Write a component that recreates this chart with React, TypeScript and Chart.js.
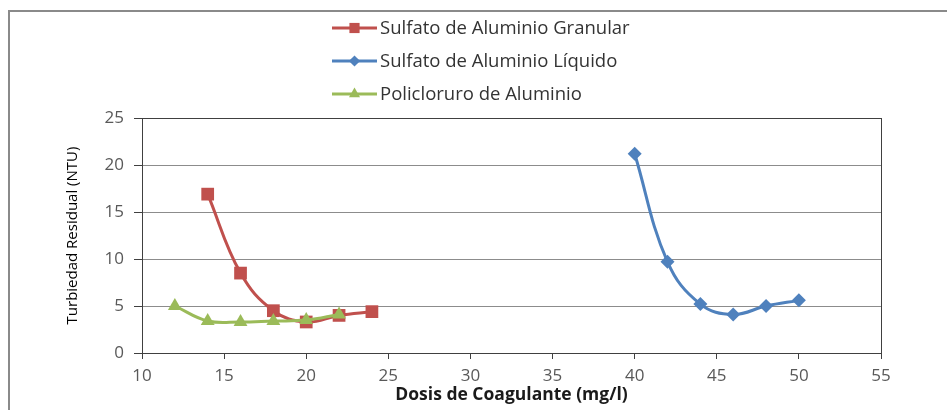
import React, { useEffect, useRef } from "react";
import { Chart, registerables } from "chart.js";

Chart.register(...registerables);

const seriesNames = [
  "Sulfato de Aluminio Granular",
  "Sulfato de Aluminio Líquido",
  "Policloruro de Aluminio",
];
const doseGranular = [14, 16, 18, 20, 22, 24];
const turbGranular = [16.9, 8.5, 4.5, 3.3, 4.0, 4.4];
const doseLiquido = [40, 42, 44, 46, 48, 50];
const turbLiquido = [21.2, 9.7, 5.2, 4.1, 5.0, 5.6];
const dosePac = [12, 14, 16, 18, 20, 22];
const turbPac = [5.0, 3.4, 3.3, 3.4, 3.5, 4.1];
const xTitle = "Dosis de Coagulante (mg/l)";
const yTitle = "Turbiedad Residual (NTU)";

const COLORS = ["#C0504D", "#4F81BD", "#9BBB59"];
const STYLES = ["rect", "rectRot", "triangle"];
const RADII = [9, 7, 8];
const FONT = "'Open Sans', 'DejaVu Sans', sans-serif";

const toPts = (xs: number[], ys: number[]) => xs.map((x, i) => ({ x, y: ys[i] }));

function drawMarker(ctx: CanvasRenderingContext2D, style: string, r: number, x: number, y: number) {
  ctx.beginPath();
  if (style === "rect") {
    const s = Math.SQRT1_2 * r;
    ctx.rect(x - s, y - s, 2 * s, 2 * s);
  } else if (style === "rectRot") {
    ctx.moveTo(x, y - r);
    ctx.lineTo(x + r, y);
    ctx.lineTo(x, y + r);
    ctx.lineTo(x - r, y);
    ctx.closePath();
  } else {
    const a = Math.PI / 2;
    for (let k = 0; k < 3; k++) {
      const ang = -a + (k * 2 * Math.PI) / 3;
      const px = x + Math.cos(ang) * r;
      const py = y + Math.sin(ang) * r;
      if (k === 0) ctx.moveTo(px, py);
      else ctx.lineTo(px, py);
    }
    ctx.closePath();
  }
  ctx.fill();
}

const framePlugin = {
  id: "frameBox",
  beforeDatasetsDraw(chart: any) {
    const { ctx, chartArea } = chart;
    ctx.save();
    ctx.strokeStyle = "#404040";
    ctx.lineWidth = 1;
    ctx.strokeRect(
      Math.round(chartArea.left) + 0.5,
      Math.round(chartArea.top) + 0.5,
      Math.round(chartArea.right - chartArea.left),
      Math.round(chartArea.bottom - chartArea.top)
    );
    ctx.restore();
  },
};

const legendPlugin = {
  id: "vertLegend",
  afterDraw(chart: any) {
    const ctx: CanvasRenderingContext2D = chart.ctx;
    const x0 = 332;
    const x1 = 377;
    const rows = [28, 61, 94];
    ctx.save();
    ctx.font = `18.5px ${FONT}`;
    ctx.textBaseline = "middle";
    seriesNames.forEach((name, i) => {
      const y = rows[i];
      ctx.strokeStyle = COLORS[i];
      ctx.lineWidth = 3;
      ctx.beginPath();
      ctx.moveTo(x0, y);
      ctx.lineTo(x1, y);
      ctx.stroke();
      ctx.fillStyle = COLORS[i];
      drawMarker(ctx, STYLES[i], RADII[i] * 0.8, (x0 + x1) / 2, y);
      ctx.fillStyle = "#333333";
      ctx.fillText(name, x1 + 3, y + 1);
    });
    ctx.restore();
  },
};

export default function App() {
  const ref = useRef<HTMLCanvasElement | null>(null);

  useEffect(() => {
    if (!ref.current) return;
    const mk = (i: number, xs: number[], ys: number[], order: number) => ({
      label: seriesNames[i],
      data: toPts(xs, ys),
      borderColor: COLORS[i],
      backgroundColor: COLORS[i],
      borderWidth: 3,
      pointStyle: STYLES[i],
      pointRadius: RADII[i],
      pointBorderWidth: 0,
      pointBackgroundColor: COLORS[i],
      tension: 0.4,
      order,
    });
    const chart = new Chart(ref.current, {
      type: "line",
      data: {
        datasets: [
          mk(0, doseGranular, turbGranular, 2),
          mk(1, doseLiquido, turbLiquido, 1),
          mk(2, dosePac, turbPac, 0),
        ] as any,
      },
      options: {
        animation: false,
        responsive: false,
        devicePixelRatio: 1,
        layout: { padding: { left: 60, right: 66, top: 118, bottom: 0 } },
        plugins: {
          legend: { display: false },
          tooltip: { enabled: false },
        },
        scales: {
          x: {
            type: "linear",
            min: 10,
            max: 55,
            ticks: {
              stepSize: 5,
              color: "#595959",
              font: { family: FONT, size: 17 },
              padding: 7,
            },
            grid: {
              drawOnChartArea: false,
              tickLength: 6,
              tickColor: "#404040",
            },
            border: { color: "#404040", width: 1 },
            title: {
              display: true,
              text: xTitle,
              color: "#1a1a1a",
              font: { family: FONT, size: 17.5, weight: "bold" },
              padding: { top: 0, bottom: 4 },
            },
            afterFit(scale: any) {
              scale.height = 57;
            },
          },
          y: {
            min: 0,
            max: 25,
            ticks: {
              stepSize: 5,
              color: "#595959",
              font: { family: FONT, size: 17 },
              padding: 10,
            },
            grid: {
              color: "#8c8c8c",
              lineWidth: 1,
              tickLength: 8,
              tickColor: "#404040",
            },
            border: { color: "#404040", width: 1 },
            title: {
              display: true,
              text: yTitle,
              color: "#000000",
              font: { family: FONT, size: 15 },
              padding: { top: 4, bottom: 0 },
            },
            afterFit(scale: any) {
              scale.width = 82;
            },
          },
        },
      } as any,
      plugins: [framePlugin, legendPlugin],
    });
    return () => chart.destroy();
  }, []);

  return (
    <div style={{ position: "fixed", left: 0, top: 0, width: 947, height: 410, background: "#fff" }}>
      <canvas ref={ref} width={947} height={410} style={{ position: "absolute", left: 0, top: 0 }} />
      <div
        style={{
          position: "absolute",
          left: 8,
          top: 10,
          width: 939,
          height: 400,
          borderTop: "2px solid #8a8a8a",
          borderLeft: "2px solid #8a8a8a",
          boxSizing: "border-box",
          pointerEvents: "none",
        }}
      />
    </div>
  );
}
